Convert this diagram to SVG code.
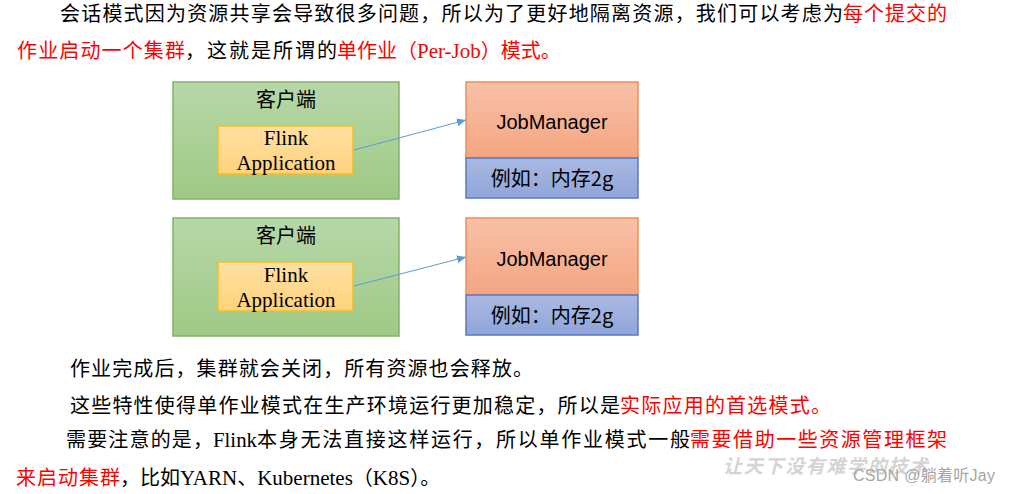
<svg xmlns="http://www.w3.org/2000/svg" width="1011" height="494" viewBox="0 0 1011 494">
<defs>
<linearGradient id="gGreen" x1="0" y1="0" x2="0" y2="1"><stop offset="0" stop-color="#b7d7a9"/><stop offset="1" stop-color="#9fc984"/></linearGradient>
<linearGradient id="gYellow" x1="0" y1="0" x2="0" y2="1"><stop offset="0" stop-color="#ffe0a3"/><stop offset="1" stop-color="#ffd27c"/></linearGradient>
<linearGradient id="gOrange" x1="0" y1="0" x2="0" y2="1"><stop offset="0" stop-color="#f8c1a7"/><stop offset="1" stop-color="#f4a582"/></linearGradient>
<linearGradient id="gBlue" x1="0" y1="0" x2="0" y2="1"><stop offset="0" stop-color="#aab9e2"/><stop offset="1" stop-color="#8fa5d9"/></linearGradient>
<marker id="arr" markerUnits="userSpaceOnUse" markerWidth="10" markerHeight="8" refX="9" refY="4" orient="auto"><path d="M0,0 L9,4 L0,8 z" fill="#5b9bd5"/></marker>
</defs>
<style>
.body{font-family:'Liberation Serif','Noto Sans CJK SC',serif;font-size:20px;fill:#000}
.red{fill:#ff0000}
.lat{font-family:'Liberation Serif',serif;font-size:21px}
.client{fill:url(#gGreen);stroke:#82b366;stroke-width:1.5}
.app{fill:url(#gYellow);stroke:#f5bd1f;stroke-width:1.5}
.jm{fill:url(#gOrange);stroke:#ef8d58;stroke-width:1.5}
.mem{fill:url(#gBlue);stroke:#5a78c0;stroke-width:1.5}
.cjk{font-family:'Noto Sans CJK SC',sans-serif;font-size:20px;fill:#000;text-anchor:middle}
.ser{font-family:'Liberation Serif',serif;font-size:21px;fill:#000;text-anchor:middle}
.sans{font-family:'Liberation Sans',sans-serif;font-size:20px;fill:#000;text-anchor:middle}
.conn{stroke:#5b9bd5;stroke-width:1;fill:none}
</style>

<g id="paragraph-top" class="body">
<text y="21"><tspan x="60" textLength="783" lengthAdjust="spacing">会话模式因为资源共享会导致很多问题，所以为了更好地隔离资源，我们可以考虑为</tspan><tspan class="red" x="843" textLength="104" lengthAdjust="spacing">每个提交的</tspan></text>
<text y="58"><tspan class="red" x="17" textLength="168" lengthAdjust="spacing">作业启动一个集群</tspan><tspan x="185" textLength="152" lengthAdjust="spacing">，这就是所谓的</tspan><tspan class="red" x="337">单作业（<tspan class="lat">Per-Job</tspan>）模式。</tspan></text>
</g>

<g id="client1">
<rect class="client" x="173" y="82" width="226" height="117"/>
<text class="cjk" x="286" y="107" font-size="21">客户端</text>
</g>
<g id="app1">
<rect class="app" x="218" y="126" width="135" height="48"/>
<text class="ser" x="286" y="145">Flink</text>
<text class="ser" x="286" y="170">Application</text>
</g>
<g id="jm1">
<rect class="jm" x="466" y="82" width="172" height="76"/>
<text class="sans" x="552" y="129" font-size="20.5">JobManager</text>
</g>
<g id="mem1">
<rect class="mem" x="466" y="158" width="172" height="40"/>
<text class="cjk" x="552" y="186">例如：内存2g</text>
</g>

<g id="client2">
<rect class="client" x="173" y="218" width="226" height="118"/>
<text class="cjk" x="286" y="243" font-size="21">客户端</text>
</g>
<g id="app2">
<rect class="app" x="218" y="262" width="135" height="49"/>
<text class="ser" x="286" y="282">Flink</text>
<text class="ser" x="286" y="307">Application</text>
</g>
<g id="jm2">
<rect class="jm" x="466" y="218" width="172" height="77"/>
<text class="sans" x="552" y="266" font-size="20.5">JobManager</text>
</g>
<g id="mem2">
<rect class="mem" x="466" y="295" width="172" height="40"/>
<text class="cjk" x="552" y="323">例如：内存2g</text>
</g>

<g id="connectors">
<path class="conn" d="M354,150 L466,120" marker-end="url(#arr)"/>
<path class="conn" d="M354,286 L466,257" marker-end="url(#arr)"/>
</g>

<g id="paragraph-bottom" class="body">
<text y="376"><tspan x="70" textLength="463" lengthAdjust="spacing">作业完成后，集群就会关闭，所有资源也会释放。</tspan></text>
<text y="413"><tspan x="70" textLength="550" lengthAdjust="spacing">这些特性使得单作业模式在生产环境运行更加稳定，所以是</tspan><tspan class="red" x="620" textLength="211" lengthAdjust="spacing">实际应用的首选模式。</tspan></text>
<text y="447"><tspan x="66" textLength="147" lengthAdjust="spacing">需要注意的是，</tspan><tspan class="lat" x="213" textLength="44" lengthAdjust="spacingAndGlyphs">Flink</tspan><tspan x="257" textLength="433" lengthAdjust="spacing">本身无法直接这样运行，所以单作业模式一般</tspan><tspan class="red" x="690" textLength="257" lengthAdjust="spacing">需要借助一些资源管理框架</tspan></text>
<text y="485"><tspan class="red" x="16" textLength="104" lengthAdjust="spacing">来启动集群</tspan><tspan x="120">，比如<tspan class="lat" font-size="21.5">YARN</tspan>、<tspan class="lat" font-size="21.5">Kubernetes</tspan>（<tspan class="lat" font-size="21.5">K8S</tspan>）。</tspan></text>
</g>

<g id="watermark">
<text x="723" y="473" font-family="'Noto Sans CJK SC',sans-serif" font-size="19" font-weight="bold" font-style="italic" fill="#d4d4d4" textLength="205" lengthAdjust="spacing">让天下没有难学的技术</text>
<text x="853" y="481" font-family="'Liberation Sans','Noto Sans CJK SC',sans-serif" font-size="16" fill="#a6a6a6" textLength="142" lengthAdjust="spacing">CSDN @躺着听Jay</text>
</g>
</svg>
